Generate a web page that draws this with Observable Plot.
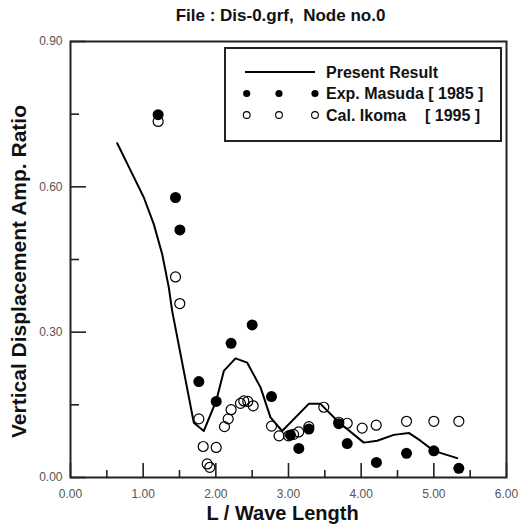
<!DOCTYPE html>
<html>
<head>
<meta charset="utf-8">
<script src="https://cdn.jsdelivr.net/npm/d3@7"></script>
<script src="https://cdn.jsdelivr.net/npm/@observablehq/plot@0.6"></script>
<style>
  html, body { margin: 0; padding: 0; background: #fff; }
  #wrap { position: relative; width: 519px; height: 530px; font-family: "Liberation Sans", Arial, sans-serif; }
  #wrap > svg.chart { position: absolute; left: 0; top: 0; }
  #legendbox { position: absolute; left: 224px; top: 47px; }
</style>
</head>
<body>
<div id="wrap"></div>
<script>
// ---- data ----
const presentX = [0.643, 0.826, 1.009, 1.146, 1.262, 1.353, 1.399, 1.697, 1.834, 2.005, 2.110, 2.271, 2.432, 2.615, 2.752, 2.913, 3.279, 3.440, 3.692, 4.036, 4.220, 4.449, 4.655, 4.816, 5.000, 5.321];
const presentY = [0.690, 0.634, 0.578, 0.523, 0.461, 0.392, 0.344, 0.113, 0.096, 0.158, 0.220, 0.246, 0.237, 0.186, 0.124, 0.096, 0.152, 0.152, 0.114, 0.072, 0.076, 0.088, 0.092, 0.076, 0.055, 0.040];

const masudaX = [1.206, 1.445, 1.505, 1.766, 2.005, 2.210, 2.500, 2.766, 3.027, 3.142, 3.280, 3.692, 3.808, 4.210, 4.624, 5.000, 5.344];
const masudaY = [0.749, 0.578, 0.511, 0.198, 0.157, 0.277, 0.315, 0.167, 0.0875, 0.060, 0.100, 0.111, 0.070, 0.031, 0.050, 0.055, 0.019];

const ikomaX = [1.206, 1.445, 1.504, 1.766, 1.826, 1.881, 1.917, 2.005, 2.119, 2.170, 2.210, 2.339, 2.385, 2.440, 2.514, 2.766, 2.870, 3.000, 3.070, 3.140, 3.280, 3.486, 3.692, 3.808, 4.014, 4.207, 4.624, 5.000, 5.344];
const ikomaY = [0.735, 0.414, 0.359, 0.121, 0.064, 0.028, 0.021, 0.062, 0.105, 0.121, 0.140, 0.153, 0.158, 0.157, 0.148, 0.106, 0.086, 0.086, 0.089, 0.094, 0.105, 0.145, 0.114, 0.112, 0.102, 0.108, 0.116, 0.116, 0.116];

const xMajorTicks = [0, 1, 2, 3, 4, 5, 6];
const xMinorTicks = [0.5, 1.5, 2.5, 3.5, 4.5, 5.5];
const yMajorTicks = [0, 0.3, 0.6, 0.9];
const yMinorTicks = [0.15, 0.45, 0.75];

const titleText = "File : Dis-0.grf,\u00a0 Node no.0";
const xLabel = "L / Wave Length";
const yLabel = "Vertical Displacement Amp. Ratio";
const legendLabels = ["Present Result", "Exp. Masuda [ 1985 ]", "Cal. Ikoma", "[ 1995 ]"];

// ---- layout ----
const W = 519, H = 530, mL = 70, mR = 13, mT = 41, mB = 53;
const plotW = W - mL - mR, plotH = H - mT - mB;
const axisColor = "#222";

// ---- tables ----
const lineData = presentX.map((x, i) => ({x, y: presentY[i]}));
const masuda = masudaX.map((x, i) => ({x, y: masudaY[i]}));
const ikoma = ikomaX.map((x, i) => ({x, y: ikomaY[i]}));
const fmt = d3.format(".2f");

// inward ticks as rules clipped by pixel insets
const inwardX = (ticks, len) => Plot.ruleX(ticks, {x: d => d, insetTop: plotH - len, stroke: axisColor, strokeWidth: 1.6});
const inwardY = (ticks, len) => Plot.ruleY(ticks, {y: d => d, insetRight: plotW - len, stroke: axisColor, strokeWidth: 1.6});

const chart = Plot.plot({
  width: W,
  height: H,
  marginLeft: mL,
  marginRight: mR,
  marginTop: mT,
  marginBottom: mB,
  x: {domain: [0, 6], axis: null},
  y: {domain: [0, 0.9], axis: null},
  style: {fontFamily: '"Liberation Sans", Arial, sans-serif', fontSize: "12px"},
  marks: [
    // data
    Plot.line(lineData, {x: "x", y: "y", stroke: "#000", strokeWidth: 2}),
    Plot.dot(ikoma, {x: "x", y: "y", r: 5, stroke: "#000", strokeWidth: 1.2, fill: "none"}),
    Plot.dot(masuda, {x: "x", y: "y", r: 5.5, fill: "#000"}),
    // titles
    Plot.text([titleText], {text: d => d, frameAnchor: "top", dx: -8, dy: -26, fontSize: 17, fontWeight: "bold", fill: "#111", lineAnchor: "middle", textAnchor: "middle"}),
    Plot.text([xLabel], {text: d => d, frameAnchor: "bottom", dx: -6, dy: 36, fontSize: 20, fontWeight: "bold", fill: "#111", lineAnchor: "middle", textAnchor: "middle"}),
    Plot.text([yLabel], {text: d => d, frameAnchor: "left", dx: -51, dy: 12, rotate: -90, fontSize: 21, fontWeight: "bold", fill: "#111", lineAnchor: "middle", textAnchor: "middle"}),
    // axes, ticks and frame drawn last
    Plot.axisX(xMajorTicks, {tickSize: 0, tickPadding: 12, tickFormat: fmt, label: null, color: "#555", fontSize: 12}),
    Plot.axisY(yMajorTicks, {tickSize: 0, tickPadding: 8, tickFormat: fmt, label: null, color: "#555", fontSize: 12}),
    inwardX(xMajorTicks, 14),
    inwardX(xMinorTicks, 7),
    inwardY(yMajorTicks, 16),
    inwardY(yMinorTicks, 9),
    Plot.frame({stroke: axisColor, strokeWidth: 2})
  ]
});
chart.classList.add("chart");
const wrap = document.getElementById("wrap");
wrap.appendChild(chart);

// ---- legend (inside plot frame, top-right) ----
const ns = "http://www.w3.org/2000/svg";
const leg = document.createElementNS(ns, "svg");
leg.setAttribute("id", "legendbox");
leg.setAttribute("width", 279);
leg.setAttribute("height", 96);
function el(tag, attrs, text) {
  const e = document.createElementNS(ns, tag);
  for (const k in attrs) e.setAttribute(k, attrs[k]);
  if (text != null) e.textContent = text;
  leg.appendChild(e);
  return e;
}
el("rect", {x: 1, y: 1, width: 276, height: 93, fill: "#fff", stroke: "#222", "stroke-width": 2});
el("line", {x1: 21, x2: 91, y1: 25, y2: 25, stroke: "#000", "stroke-width": 2});
const symX = [22.7, 55, 91];
symX.forEach(x => el("circle", {cx: x, cy: 46.5, r: 3.6, fill: "#000"}));
symX.forEach(x => el("circle", {cx: x, cy: 68, r: 3.4, fill: "none", stroke: "#000", "stroke-width": 1.1}));
const tstyle = {"font-family": '"Liberation Sans", Arial, sans-serif', "font-size": 16, "font-weight": "bold", fill: "#111"};
el("text", {...tstyle, x: 102, y: 30.5}, legendLabels[0]);
el("text", {...tstyle, x: 102, y: 52}, legendLabels[1]);
el("text", {...tstyle, x: 102, y: 73.7}, legendLabels[2]);
el("text", {...tstyle, x: 201, y: 73.7}, legendLabels[3]);
wrap.appendChild(leg);
</script>
</body>
</html>
